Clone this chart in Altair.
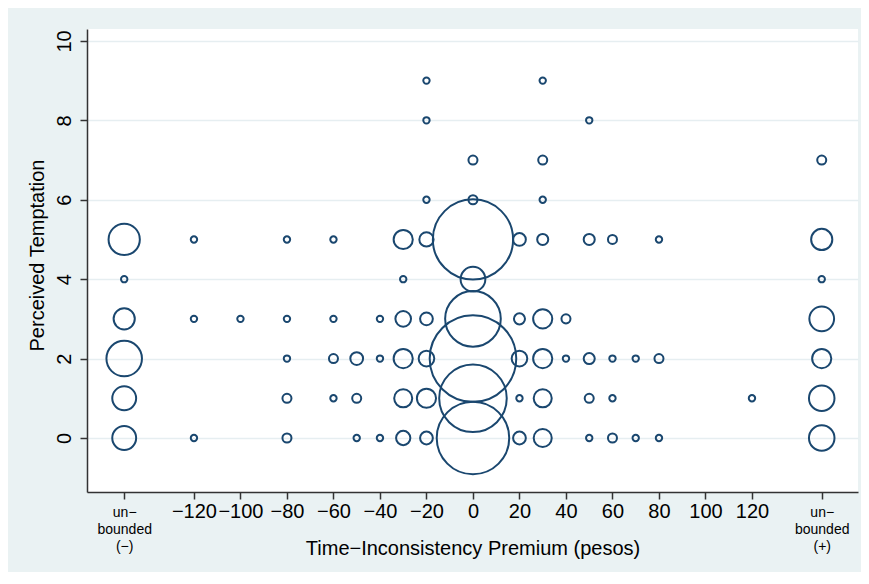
import altair as alt
import pandas as pd

# Time-inconsistency premium (pesos); -150 / 150 stand for "unbounded (−/+)"
premium = [
    -20, 30,
    -20, 50,
    0, 30, 150,
    -20, 0, 30,
    -150, -120, -80, -60, -30, -20, 0, 20, 30, 50, 60, 80, 150,
    -150, -30, 0, 150,
    -150, -120, -100, -80, -60, -40, -30, -20, 0, 20, 30, 40, 150,
    -150, -80, -60, -50, -40, -30, -20, 0, 20, 30, 40, 50, 60, 70, 80, 150,
    -150, -80, -60, -50, -30, -20, 0, 20, 30, 50, 60, 120, 150,
    -150, -120, -80, -50, -40, -30, -20, 0, 20, 30, 50, 60, 70, 80, 150,
]
temptation = (
    [9] * 2 + [8] * 2 + [7] * 3 + [6] * 3 + [5] * 13 + [4] * 4
    + [3] * 13 + [2] * 16 + [1] * 13 + [0] * 15
)
freq = [
    1, 1,
    1, 1,
    2, 2, 2,
    1, 2, 1,
    24, 1, 1, 1, 9, 5, 158, 4, 3, 3, 2, 1, 11,
    1, 1, 15, 1,
    11, 1, 1, 1, 1, 1, 6, 4, 76, 3, 9, 2, 15,
    31, 1, 2, 4, 1, 9, 6, 184, 6, 9, 1, 3, 1, 1, 2, 9,
    14, 2, 1, 2, 8, 9, 112, 1, 8, 2, 1, 1, 16,
    14, 1, 2, 1, 1, 5, 4, 129, 4, 8, 1, 2, 1, 1, 16,
]

x_ticks = [-150, -120, -100, -80, -60, -40, -20, 0, 20, 40, 60, 80, 100, 120, 150]
y_ticks = [0, 2, 4, 6, 8, 10]

df = pd.DataFrame({"premium": premium, "temptation": temptation, "freq": freq})

NAVY = "#1a476f"
FONT = "Liberation Sans"

label_expr = (
    "datum.value == -150 ? ['un\u2212','bounded','(\u2212)'] : "
    "datum.value == 150 ? ['un\u2212','bounded','(+)'] : datum.label"
)
is_unb = "abs(datum.value) == 150"

chart = (
    alt.Chart(df)
    .mark_point(shape="circle", filled=False, color=NAVY, strokeWidth=2, opacity=1)
    .encode(
        x=alt.X(
            "premium:Q",
            scale=alt.Scale(domain=[-166, 165.6], nice=False, zero=False),
            axis=alt.Axis(
                values=x_ticks,
                labelExpr=label_expr,
                labelFontSize={"condition": {"test": is_unb, "value": 14}, "value": 20},
                labelPadding={"condition": {"test": is_unb, "value": 6}, "value": 2},
                labelLineHeight=17,
                labelFlush=False,
                labelOverlap=False,
                grid=False,
                title="Time\u2212Inconsistency Premium (pesos)",
                titleBaseline="alphabetic",
                titleY=62,
            ),
        ),
        y=alt.Y(
            "temptation:Q",
            scale=alt.Scale(domain=[-1.36, 10.3], nice=False, zero=False),
            axis=alt.Axis(
                values=y_ticks,
                labelAngle=270,
                labelFontSize=20,
                labelPadding=6,
                labelFlush=False,
                labelOverlap=False,
                grid=True,
                title="Perceived Temptation",
                titleBaseline="alphabetic",
                titleX=-44,
                titleY=226,
            ),
        ),
        size=alt.Size("freq:Q", scale=alt.Scale(domain=[0, 200], range=[0, 8150]), legend=None),
    )
    .properties(
        width=771,
        height=463,
        autosize=alt.AutoSizeParams(type="none"),
        padding={"left": 79, "top": 21, "right": 3, "bottom": 80},
        background="#eaf2f3",
    )
    .configure_view(fill="white", stroke=None)
    .configure_axis(
        labelFont=FONT,
        titleFont=FONT,
        labelColor="black",
        titleColor="black",
        titleFontSize=20,
        titleFontWeight="normal",
        domainColor="#333333",
        domainWidth=1.5,
        tickColor="#333333",
        tickWidth=1.5,
        tickSize=7,
        gridColor="#e6eef1",
        gridWidth=1.5,
    )
)

chart.save("out.html", embed_options={"renderer": "svg", "actions": False})
